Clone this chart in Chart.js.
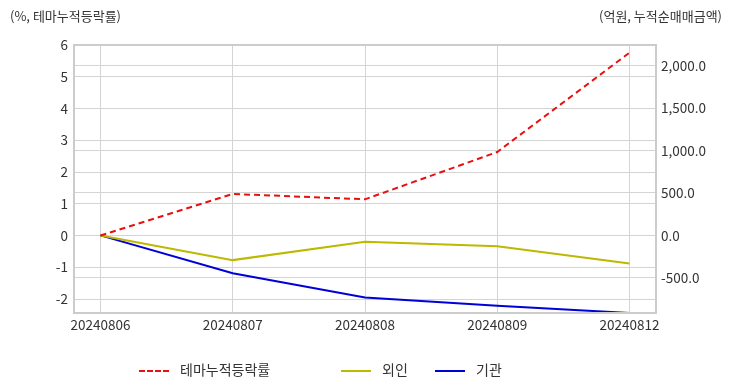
<!DOCTYPE html>
<html>
<head>
<meta charset="utf-8">
<script src="https://cdn.jsdelivr.net/npm/chart.js@4"></script>
<style>
  body { margin: 0; background: #fff; font-family: "Noto Sans CJK KR", sans-serif; }
  #wrap { position: relative; width: 732px; height: 392px; }
  .axisTitle { position: absolute; top: 6px; font-size: 13px; color: #333; }
  #legend { position: absolute; top: 359px; left: 0; font-size: 14px; color: #333; }
  .item { position: absolute; top: 0; white-space: nowrap; line-height: 20px; }
  .item span.box { display: inline-block; width: 30px; height: 0; vertical-align: middle; margin-right: 11px; }
</style>
</head>
<body>
<div id="wrap">
  <canvas id="myChart" width="732" height="392"></canvas>
  <div class="axisTitle" style="left:10px">(%, 테마누적등락률)</div>
  <div class="axisTitle" style="right:10px">(억원, 누적순매매금액)</div>
  <div id="legend">
    <div class="item" style="left:139px"><span class="box" style="border-top:2px dashed #e81010"></span>테마누적등락률</div>
    <div class="item" style="left:341px"><span class="box" style="border-top:2px solid #bdb800"></span>외인</div>
    <div class="item" style="left:435px"><span class="box" style="border-top:2px solid #0000d8"></span>기관</div>
  </div>
</div>
<script>
var dates = ["20240806", "20240807", "20240808", "20240809", "20240812"];
var themeRate = [0, 1.31, 1.14, 2.63, 5.76];
var foreign = [0, -291, -76, -128, -330];
var institution = [0, -445, -731, -830, -914];
var leftTicks = [-2, -1, 0, 1, 2, 3, 4, 5, 6];
var rightTicks = [-500, 0, 500, 1000, 1500, 2000];

function toPoints(arr) {
  return arr.map(function (v, i) { return { x: i, y: v }; });
}

var frame = {
  id: "frame",
  afterDatasetsDraw: function (chart) {
    var a = chart.chartArea, ctx = chart.ctx;
    ctx.save();
    ctx.strokeStyle = "#cccccc";
    ctx.lineWidth = 2;
    ctx.strokeRect(a.left, a.top, a.right - a.left, a.bottom - a.top);
    ctx.restore();
  }
};

var tickFont = { family: "Noto Sans CJK KR", size: 13.5 };

function createChart() {
  var ctx = document.getElementById("myChart").getContext("2d");
  new Chart(ctx, {
    type: "line",
    data: {
      datasets: [
        { label: "테마누적등락률", data: toPoints(themeRate), yAxisID: "y",
          borderColor: "#e81010", borderDash: [6, 4], borderWidth: 2, pointRadius: 0, tension: 0 },
        { label: "외인", data: toPoints(foreign), yAxisID: "y1",
          borderColor: "#bdb800", borderWidth: 2, pointRadius: 0, tension: 0 },
        { label: "기관", data: toPoints(institution), yAxisID: "y1",
          borderColor: "#0000d8", borderWidth: 2, pointRadius: 0, tension: 0 }
      ]
    },
    options: {
      responsive: false,
      animation: false,
      layout: { padding: { top: 45, left: 0, right: 0, bottom: 0 } },
      plugins: { legend: { display: false }, tooltip: { enabled: false } },
      scales: {
        x: {
          type: "linear", min: -0.2, max: 4.2,
          afterBuildTicks: function (s) { s.ticks = dates.map(function (d, i) { return { value: i }; }); },
          afterFit: function (s) { s.height = 79; },
          grid: { color: "#d4d4d4", drawTicks: false },
          border: { display: false },
          ticks: { padding: 4, color: "#333", font: tickFont, maxRotation: 0,
            callback: function (v) { return dates[v]; } }
        },
        y: {
          position: "left", min: -2.44, max: 6,
          afterBuildTicks: function (s) { s.ticks = leftTicks.map(function (v) { return { value: v }; }); },
          afterFit: function (s) { s.width = 74; },
          grid: { color: "#d4d4d4", drawTicks: false },
          border: { display: false },
          ticks: { padding: 6, color: "#333", font: tickFont }
        },
        y1: {
          position: "right", min: -914, max: 2243,
          afterBuildTicks: function (s) { s.ticks = rightTicks.map(function (v) { return { value: v }; }); },
          afterFit: function (s) { s.width = 76; },
          grid: { color: "#d4d4d4", drawTicks: false },
          border: { display: false },
          ticks: { padding: 5, color: "#333", font: tickFont,
            callback: function (v) { return v.toLocaleString("en-US", { minimumFractionDigits: 1, maximumFractionDigits: 1 }); } }
        }
      }
    },
    plugins: [frame]
  });
}
createChart();
</script>
</body>
</html>
